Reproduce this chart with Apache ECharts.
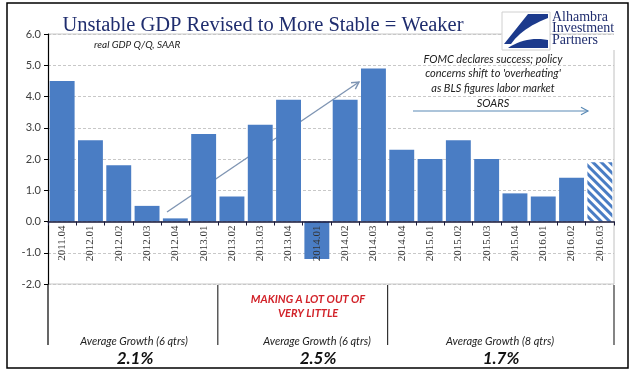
<!DOCTYPE html>
<html><head><meta charset="utf-8">
<script src="https://cdn.jsdelivr.net/npm/echarts@6/dist/echarts.min.js"></script>
<style>html,body{margin:0;padding:0;background:#fff}#c{width:640px;height:374px}</style>
</head><body><div id="c"></div>
<script>
// ---- data ----
const categories = ['2011.04','2012.01','2012.02','2012.03','2012.04','2013.01','2013.02','2013.03','2013.04','2014.01',
  '2014.02','2014.03','2014.04','2015.01','2015.02','2015.03','2015.04','2016.01','2016.02','2016.03'];
const gdpValues = [4.5,2.6,1.8,0.5,0.1,2.8,0.8,3.1,3.9,-1.2,3.9,4.9,2.3,2.0,2.6,2.0,0.9,0.8,1.4,1.9];
const estimateCategory = '2016.03';
const yMin = -2, yMax = 6, yStep = 1;
const periodLengths = [6, 6, 8];
const periodLabels = ['Average Growth (6 qtrs)', 'Average Growth (6 qtrs)', 'Average Growth (8 qtrs)'];
const periodAverages = ['2.1%', '2.5%', '1.7%'];
const titleText = 'Unstable GDP Revised to More Stable = Weaker';
const subtitleText = 'real GDP Q/Q, SAAR';
const noteLines = ['FOMC declares success; policy', "concerns shift to 'overheating'", 'as BLS figures labor market', 'SOARS'];
const middleNote = ['MAKING A LOT OUT OF', 'VERY LITTLE'];
const logoLines = ['Alhambra', 'Investment', 'Partners'];

const BLUE = '#4a7dc4';
const NAVY = '#1f2d6e';
const GRID = {left: 48, right: 26, top: 34, bottom: 90};
const gridHeight = 374 - GRID.top - GRID.bottom;
const zeroOffset = -(0 - yMin) / (yMax - yMin) * gridHeight;

const chart = echarts.init(document.getElementById('c'), null, {renderer: 'canvas'});

const barData = categories.map((c, i) => {
  if (c === estimateCategory) {
    return {
      value: gdpValues[i],
      itemStyle: {
        color: '#ffffff',
        decal: {symbol: 'rect', symbolSize: 1, dashArrayX: [1, 0], dashArrayY: [3, 3], rotation: Math.PI / 4, color: BLUE}
      }
    };
  }
  return gdpValues[i];
});

chart.setOption({
  animation: false,
  backgroundColor: '#ffffff',
  grid: GRID,
  xAxis: {
    type: 'category',
    data: categories,
    z: 5,
    offset: zeroOffset,
    axisLine: {onZero: false, lineStyle: {color: '#1a1a3a', width: 1.5}},
    axisTick: {show: true, length: 4, lineStyle: {color: '#1a1a3a'}},
    axisLabel: {rotate: 90, margin: 4, interval: 0, fontFamily: 'Liberation Serif', fontSize: 11, color: '#333'},
    splitLine: {show: false}
  },
  yAxis: {
    type: 'value',
    min: yMin, max: yMax, interval: yStep,
    axisLine: {show: true, lineStyle: {color: '#000', width: 1.2}},
    axisTick: {show: true, length: 4, lineStyle: {color: '#000'}},
    axisLabel: {formatter: v => v.toFixed(1), fontFamily: 'Lato', fontSize: 11, color: '#404040', margin: 7},
    splitLine: {show: true, lineStyle: {color: '#c8c8c8', type: [3, 2], width: 1}}
  },
  series: [{
    type: 'bar',
    data: barData,
    barCategoryGap: '12%',
    itemStyle: {color: BLUE}
  }]
});

// ---- annotations ----
const xc = i => chart.convertToPixel({xAxisIndex: 0}, i);
const yv = v => chart.convertToPixel({yAxisIndex: 0}, v);
const band = xc(1) - xc(0);
const boundary = k => xc(0) - band / 2 + k * band;
const yTop = yv(yMax), yBot = yv(yMin);
const extBottom = 345;

const g = [];
g.push({type: 'rect', shape: {x: 7, y: 3, width: 621, height: 365}, style: {fill: 'none', stroke: '#000', lineWidth: 1.5}, z: 10});
g.push({type: 'line', shape: {x1: boundary(0), y1: yTop, x2: boundary(20), y2: yTop}, style: {stroke: '#c8c8c8', lineWidth: 1}});
g.push({type: 'line', shape: {x1: boundary(0), y1: yBot, x2: boundary(20), y2: yBot}, style: {stroke: '#c8c8c8', lineWidth: 1}});
g.push({type: 'line', shape: {x1: boundary(20), y1: 50, x2: boundary(20), y2: yBot}, style: {stroke: '#c0c0c0', lineWidth: 1}});
let acc = 0;
const bounds = [0];
periodLengths.forEach(n => { acc += n; bounds.push(acc); });
bounds.forEach((k, j) => {
  const x = boundary(k);
  g.push({type: 'line', shape: {x1: x, y1: j === 0 ? yBot : yBot + 1, x2: x, y2: extBottom},
    style: {stroke: j === 0 ? '#000' : '#333', lineWidth: 1.2}});
});
const sectionCenters = [134, 317, 500];
periodLabels.forEach((t, j) => {
  g.push({type: 'text', x: sectionCenters[j], y: 341, style: {text: t, font: 'italic 11px Lato', fill: '#222', align: 'center', verticalAlign: 'middle'}});
  g.push({type: 'text', x: sectionCenters[j] + 1, y: 359, style: {text: periodAverages[j], font: 'italic bold 17px Lato', fill: '#111', align: 'center', verticalAlign: 'middle'}});
});
middleNote.forEach((t, j) => {
  g.push({type: 'text', x: 308, y: 299 + j * 14, style: {text: t, font: 'italic bold 11px Lato', fill: '#d2232a', align: 'center', verticalAlign: 'middle'}});
});
g.push({type: 'text', x: 263, y: 26, style: {text: titleText, font: '20.5px "Liberation Serif"', fill: NAVY, align: 'center', verticalAlign: 'middle'}});
g.push({type: 'text', x: 94, y: 45, style: {text: subtitleText, font: 'italic 10px Lato', fill: '#222', align: 'left', verticalAlign: 'middle'}});
noteLines.forEach((t, j) => {
  g.push({type: 'text', x: 493, y: 59 + j * 14.7, style: {text: t, font: 'italic 11px Lato', fill: '#222', align: 'center', verticalAlign: 'middle'}});
});
function arrow(x1, y1, x2, y2, color, lw) {
  g.push({type: 'line', shape: {x1, y1, x2, y2}, style: {stroke: color, lineWidth: lw}});
  const a = Math.atan2(y2 - y1, x2 - x1), L = 8, s = 0.5;
  g.push({type: 'polyline', shape: {points: [
    [x2 - L * Math.cos(a - s), y2 - L * Math.sin(a - s)], [x2, y2], [x2 - L * Math.cos(a + s), y2 - L * Math.sin(a + s)]]},
    style: {stroke: color, lineWidth: lw, fill: 'none'}});
}
arrow(413, 111, 588, 111, '#5a8ab5', 1.2);
arrow(167, 212, 359, 82, '#7f95b3', 1.4);
// logo
function quad(p0, c, p1, n) {
  const pts = [];
  for (let i = 0; i <= n; i++) {
    const t = i / n, u = 1 - t;
    pts.push([u * u * p0[0] + 2 * u * t * c[0] + t * t * p1[0], u * u * p0[1] + 2 * u * t * c[1] + t * t * p1[1]]);
  }
  return pts;
}
g.push({type: 'rect', shape: {x: 502, y: 12, width: 48, height: 38}, style: {fill: '#fff', stroke: '#d0d0d0', lineWidth: 1}});
g.push({type: 'polygon', shape: {points: [[528, 14], [548, 14]].concat(quad([548, 18], [522, 28], [511, 44], 12)).concat([[504, 44]])}, style: {fill: '#1c3a8c'}});
g.push({type: 'polygon', shape: {points: quad([508, 48], [526, 36], [548, 40], 12).concat([[548, 48]])}, style: {fill: '#1c3a8c'}});
logoLines.forEach((t, j) => {
  g.push({type: 'text', x: 552, y: 24 + j * 11.6, style: {text: t, font: '14px "Liberation Serif"', fill: NAVY, align: 'left', verticalAlign: 'bottom'}});
});

chart.setOption({graphic: g});
</script></body></html>
